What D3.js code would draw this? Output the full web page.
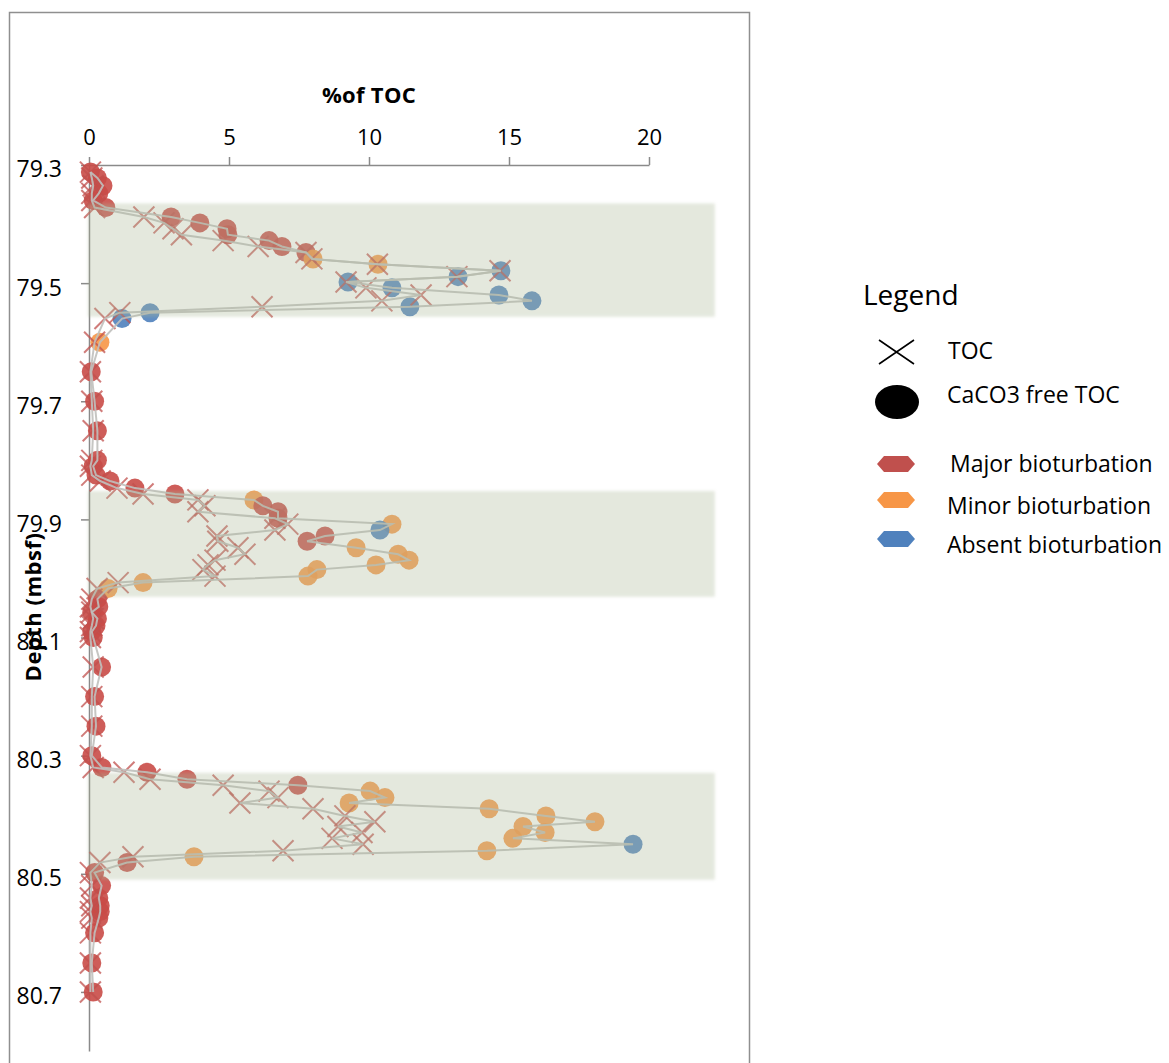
<!DOCTYPE html>
<html>
<head>
<meta charset="utf-8">
<script src="https://cdn.jsdelivr.net/npm/d3@7"></script>
<style>
    body { margin: 0; background: #fff; }
    text { font-family: 'Open Sans', sans-serif; fill: #000; }
</style>
</head>
<body>
<div id="chart"></div>
<script>
// Samples: depth (mbsf), TOC (%), CaCO3 free TOC (%), bioturbation
var depth = [79.312, 79.322, 79.335, 79.348, 79.36, 79.372, 79.388, 79.398, 79.408, 79.418,
    79.428, 79.438, 79.448, 79.459, 79.468, 79.479, 79.489, 79.498, 79.508, 79.52,
    79.53, 79.54, 79.55, 79.56, 79.6, 79.65, 79.7, 79.75, 79.8, 79.81,
    79.825, 79.835, 79.847, 79.857, 79.867, 79.877, 79.887, 79.898, 79.908, 79.918,
    79.928, 79.937, 79.948, 79.959, 79.969, 79.977, 79.985, 79.996, 80.007, 80.017,
    80.035, 80.048, 80.057, 80.068, 80.08, 80.09, 80.1, 80.15, 80.2, 80.25,
    80.3, 80.32, 80.328, 80.34, 80.35, 80.36, 80.371, 80.38, 80.39, 80.402,
    80.412, 80.42, 80.43, 80.44, 80.45, 80.461, 80.471, 80.481, 80.498, 80.52,
    80.541, 80.554, 80.564, 80.575, 80.6, 80.651, 80.7];

var toc = [0.05, 0.1, 0.15, 0.1, 0.1, 0.2, 1.96, 2.68, 3.0, 3.3,
    4.79, 6.04, 7.75, 7.96, 10.3, 14.68, 13.14, 9.18, 9.89, 11.86,
    10.46, 6.18, 1.1, 0.57, 0.2, 0.05, 0.1, 0.15, 0.1, 0.05,
    0.1, 0.4, 1.0, 1.93, 3.89, 4.14, 3.89, 6.64, 7.1, 6.64,
    4.57, 4.6, 5.32, 5.57, 4.5, 4.25, 4.07, 4.5, 1.04, 0.29,
    0.1, 0.05, 0.1, 0.15, 0.1, 0.05, 0.05, 0.15, 0.1, 0.1,
    0.05, 0.15, 1.25, 2.18, 4.79, 6.43, 6.75, 5.39, 8.0, 9.14,
    10.21, 8.89, 9.75, 8.68, 9.79, 6.93, 1.57, 0.39, 0.05, 0.1,
    0.05, 0.1, 0.05, 0.1, 0.05, 0.05, 0.05];

var cfToc = [0.05, 0.3, 0.5, 0.35, 0.15, 0.6, 2.93, 3.96, 4.93, 4.96,
    6.43, 6.89, 7.75, 8.0, 10.32, 14.71, 13.18, 9.25, 10.82, 14.64,
    15.82, 11.46, 2.18, 1.18, 0.39, 0.08, 0.2, 0.3, 0.3, 0.15,
    0.25, 0.75, 1.64, 3.07, 5.89, 6.21, 6.75, 6.75, 10.82, 10.39,
    8.43, 7.79, 9.54, 11.04, 11.43, 10.25, 8.14, 7.82, 1.93, 0.68,
    0.3, 0.35, 0.1, 0.3, 0.25, 0.1, 0.15, 0.45, 0.2, 0.25,
    0.1, 0.46, 2.07, 3.5, 7.46, 10.04, 10.57, 9.29, 14.29, 16.32,
    18.07, 15.5, 16.29, 15.14, 19.43, 14.21, 3.75, 1.36, 0.2, 0.45,
    0.35, 0.4, 0.4, 0.35, 0.2, 0.1, 0.15];

var bio = ['Major', 'Major', 'Major', 'Major', 'Major', 'Major', 'Major', 'Major', 'Major', 'Major',
    'Major', 'Major', 'Major', 'Minor', 'Minor', 'Absent', 'Absent', 'Absent', 'Absent', 'Absent',
    'Absent', 'Absent', 'Absent', 'Absent', 'Minor', 'Major', 'Major', 'Major', 'Major', 'Major',
    'Major', 'Major', 'Major', 'Major', 'Minor', 'Major', 'Major', 'Major', 'Minor', 'Absent',
    'Major', 'Major', 'Minor', 'Minor', 'Minor', 'Minor', 'Minor', 'Minor', 'Minor', 'Minor',
    'Major', 'Major', 'Major', 'Major', 'Major', 'Major', 'Major', 'Major', 'Major', 'Major',
    'Major', 'Major', 'Major', 'Major', 'Major', 'Minor', 'Minor', 'Minor', 'Minor', 'Minor',
    'Minor', 'Minor', 'Minor', 'Minor', 'Absent', 'Minor', 'Minor', 'Major', 'Major', 'Major',
    'Major', 'Major', 'Major', 'Major', 'Major', 'Major', 'Major'];

// Shaded intervals (depth top, depth bottom)
var bandTop = [79.365, 79.852, 80.329];
var bandBottom = [79.557, 80.031, 80.51];

var xTicks = [0, 5, 10, 15, 20];
var yTicks = [79.3, 79.5, 79.7, 79.9, 80.1, 80.3, 80.5, 80.7];

var bioNames = ['Major', 'Minor', 'Absent'];
var bioLabels = ['Major bioturbation', 'Minor bioturbation', 'Absent bioturbation'];

var markerColors = { Major: '#c94b47', Minor: '#f79646', Absent: '#4f81bd' };
var legendColors = { Major: '#c0504d', Minor: '#f79646', Absent: '#4f81bd' };

// Set up an svg area
var svgWidth = 1169;
var svgHeight = 1063;

var svg = d3.select('#chart')
    .append('svg')
    .attr('width', svgWidth)
    .attr('height', svgHeight);

// Outer frame (bottom edge runs off the picture)
svg.append('rect')
    .attr('x', 9.5)
    .attr('y', 12.5)
    .attr('width', 740)
    .attr('height', 1100)
    .attr('fill', 'none')
    .attr('stroke', '#8f8f8f')
    .attr('stroke-width', 1.5);

var xScale = d3.scaleLinear()
    .domain([0, 20])
    .range([89, 649]);

var yScale = d3.scaleLinear()
    .domain([79.3, 80.8])
    .range([165, 1051]);

var samples = depth.map((d, i) => ({ depth: d, toc: toc[i], cf: cfToc[i], bio: bio[i] }));

// Axes
var topAxis = d3.axisTop(xScale)
    .tickValues(xTicks)
    .tickSize(8)
    .tickPadding(12)
    .tickSizeOuter(0);

var leftAxis = d3.axisLeft(yScale)
    .tickValues(yTicks)
    .tickFormat(d3.format('.1f'))
    .tickSize(8)
    .tickPadding(19)
    .tickSizeOuter(0);

var xAxis = svg.append('g')
    .attr('transform', 'translate(0, 165)')
    .call(topAxis);

var yAxis = svg.append('g')
    .attr('transform', 'translate(89, 0)')
    .call(leftAxis);

[xAxis, yAxis].forEach((ax) => {
    ax.selectAll('path, line').attr('stroke', '#8a8a8a').attr('stroke-width', 1.5);
    ax.selectAll('text')
        .attr('font-family', 'Open Sans, sans-serif')
        .attr('font-size', 22)
        .attr('fill', '#000');
});
yAxis.selectAll('text').attr('font-size', 23).attr('dy', '0.52em');

// Circles (CaCO3 free TOC)
var plot = svg.append('g');

plot.selectAll('circle.cf')
    .data(samples)
    .enter()
    .append('circle')
    .attr('class', 'cf')
    .attr('cx', (d) => xScale(d.cf))
    .attr('cy', (d) => yScale(d.depth))
    .attr('r', 9.5)
    .attr('fill', (d) => markerColors[d.bio])
    .attr('fill-opacity', 0.9);

// X markers (TOC)
var xSize = 10.5;
plot.selectAll('path.toc')
    .data(samples)
    .enter()
    .append('path')
    .attr('class', 'toc')
    .attr('d', (d) => {
        var cx = xScale(d.toc), cy = yScale(d.depth);
        return `M${cx - xSize},${cy - xSize}L${cx + xSize},${cy + xSize}M${cx - xSize},${cy + xSize}L${cx + xSize},${cy - xSize}`;
    })
    .attr('stroke', '#c0504d')
    .attr('stroke-opacity', 0.75)
    .attr('stroke-width', 2)
    .attr('fill', 'none');

// Connecting lines
var tocLine = d3.line()
    .x((d) => xScale(d.toc))
    .y((d) => yScale(d.depth));

var cfLine = d3.line()
    .x((d) => xScale(d.cf))
    .y((d) => yScale(d.depth));

[tocLine, cfLine].forEach((ln) => {
    plot.append('path')
        .datum(samples)
        .attr('d', ln)
        .attr('fill', 'none')
        .attr('stroke', '#c0c0bc')
        .attr('stroke-opacity', 0.9)
        .attr('stroke-width', 2);
});

// Shaded intervals laid over the data
var defs = svg.append('defs');
defs.append('filter')
    .attr('id', 'soft')
    .attr('x', '-5%').attr('y', '-20%').attr('width', '110%').attr('height', '140%')
    .append('feGaussianBlur')
    .attr('stdDeviation', 1.5);

svg.append('g')
    .selectAll('rect')
    .data(bandTop)
    .enter()
    .append('rect')
    .attr('x', xScale(0) - 1)
    .attr('y', (d) => yScale(d))
    .attr('width', xScale(22.35) - xScale(0) + 1)
    .attr('height', (d, i) => yScale(bandBottom[i]) - yScale(d))
    .attr('fill', 'rgb(170, 185, 150)')
    .attr('fill-opacity', 0.32)
    .attr('filter', 'url(#soft)');

// Axis titles
svg.append('text')
    .attr('x', 369)
    .attr('y', 103)
    .attr('text-anchor', 'middle')
    .attr('font-size', 22)
    .attr('font-weight', 'bold')
    .attr('letter-spacing', 0.3)
    .text('%of TOC');

svg.append('text')
    .attr('transform', 'translate(41, 607) rotate(-90)')
    .attr('text-anchor', 'middle')
    .attr('font-size', 22)
    .attr('font-weight', 'bold')
    .attr('letter-spacing', 0.5)
    .text('Depth (mbsf)');

// Legend
var legend = svg.append('g');

legend.append('text')
    .attr('x', 863)
    .attr('y', 305)
    .attr('font-size', 28)
    .text('Legend');

legend.append('path')
    .attr('d', 'M879,340L914,364M879,364L914,340')
    .attr('stroke', '#000')
    .attr('stroke-width', 1.6)
    .attr('fill', 'none');

legend.append('text')
    .attr('x', 948)
    .attr('y', 359)
    .attr('font-size', 23)
    .text('TOC');

legend.append('ellipse')
    .attr('cx', 897)
    .attr('cy', 402)
    .attr('rx', 22)
    .attr('ry', 17)
    .attr('fill', '#000');

legend.append('text')
    .attr('x', 947)
    .attr('y', 403)
    .attr('font-size', 23)
    .text('CaCO3 free TOC');

var hexY = [464, 500, 539];
var textY = [472, 514, 553];
var textX = [950, 947, 947];
var hexagon = (cx, cy) => `M${cx - 19},${cy}L${cx - 12},${cy - 8}L${cx + 12},${cy - 8}L${cx + 19},${cy}L${cx + 12},${cy + 8}L${cx - 12},${cy + 8}Z`;

bioNames.forEach((name, i) => {
    legend.append('path')
        .attr('d', hexagon(896, hexY[i]))
        .attr('fill', legendColors[name]);
    legend.append('text')
        .attr('x', textX[i])
        .attr('y', textY[i])
        .attr('font-size', 23)
        .text(bioLabels[i]);
});
</script>
</body>
</html>
